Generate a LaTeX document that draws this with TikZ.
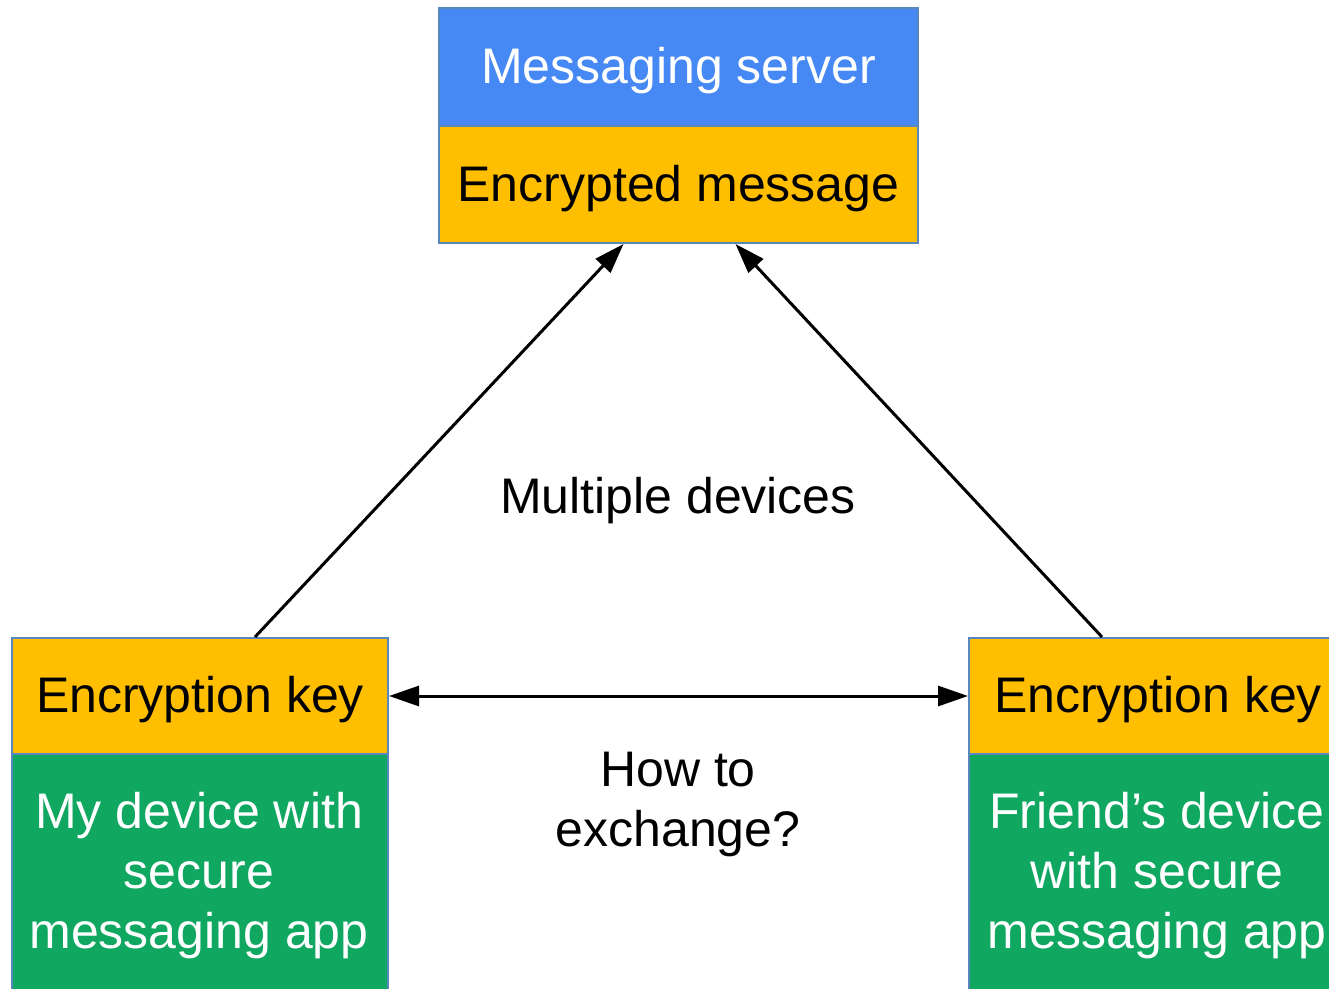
\documentclass[tikz,border=0pt]{standalone}
\usepackage{fontspec}
\setmainfont{Liberation Sans}
\usetikzlibrary{arrows.meta,calc}
\definecolor{gblue}{HTML}{4688F4}
\definecolor{gyellow}{HTML}{FFBF00}
\definecolor{ggreen}{HTML}{10A761}
\definecolor{edgeblue}{HTML}{5A86BE}
\newcommand{\lowered}[1]{\raisebox{-4pt}[\height][\depth]{#1}}
\tikzset{
  panel/.style={draw=edgeblue, line width=2pt, rectangle, inner sep=0pt,
    align=center, anchor=north west,
    font=\fontsize{50}{60}\selectfont},
  serverpanel/.style={panel, fill=gblue, text=white},
  keypanel/.style={panel, fill=gyellow, text=black},
  devicepanel/.style={panel, fill=ggreen, text=white},
  caption/.style={font=\fontsize{50}{60}\selectfont, align=center, text=black},
  link/.style={line width=3pt, draw=black},
  tip/.style={-{Triangle[length=30pt,width=20pt]}},
  bothtips/.style={{Triangle[length=30pt,width=20pt]}-{Triangle[length=30pt,width=20pt]}}
}
\begin{document}
\begin{tikzpicture}[x=1pt,y=-1pt]
  \useasboundingbox (0,0) rectangle (1329,988);
  \fill[white] (0,0) rectangle (1329,988);

  % server at the top
  \node[serverpanel, minimum width=479pt, minimum height=118pt] (srv) at (438,7) {\lowered{Messaging server}};
  \node[keypanel, minimum width=479pt, minimum height=117pt] (msg) at (438,125) {\lowered{Encrypted message}};

  % my device, lower left
  \node[keypanel, minimum width=376pt, minimum height=116pt] (lkey) at (11,637) {\lowered{Encryption key}};
  \node[devicepanel, minimum width=376pt, minimum height=250pt] (ldev) at (11,753) {};
  \node[caption, text=white] (ldevtext) at (199,876) {My device with\\secure\\messaging app};

  % friend's device, lower right
  \node[keypanel, minimum width=378pt, minimum height=116pt] (rkey) at (968,637) {\lowered{Encryption key}};
  \node[devicepanel, minimum width=378pt, minimum height=250pt] (rdev) at (968,753) {};
  \node[caption, text=white] (rdevtext) at (1157,876) {Friend’s device\\with secure\\messaging app};

  % captions
  \node[caption] (multi) at (678,501) {Multiple devices};
  \node[caption] (how) at (678,804) {How to\\exchange?};

  % connectors
  \draw[link, tip] ([xshift=55pt]lkey.north) -- ([xshift=-55pt]msg.south);
  \draw[link, tip] ([xshift=-56pt]rkey.north) -- ([xshift=57pt]msg.south);
  \draw[link, bothtips] (lkey.east) -- (rkey.west);
\end{tikzpicture}
\end{document}
